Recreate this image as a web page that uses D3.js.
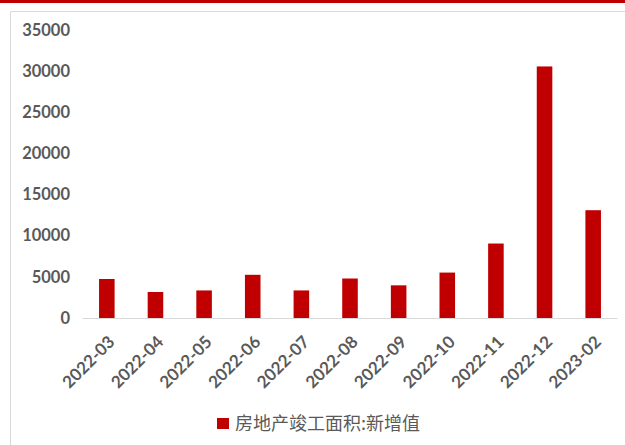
<!DOCTYPE html>
<html><head><meta charset="utf-8">
<script src="https://cdn.jsdelivr.net/npm/d3@7"></script>
<style>html,body{margin:0;padding:0;background:#fff;overflow:hidden}</style>
</head><body>
<script>
const categories = ["2022-03","2022-04","2022-05","2022-06","2022-07","2022-08","2022-09","2022-10","2022-11","2022-12","2023-02"];
const values = [4740, 3160, 3350, 5250, 3350, 4800, 3970, 5520, 9050, 30570, 13100];
const yTicks = [0, 5000, 10000, 15000, 20000, 25000, 30000, 35000];
const seriesName = "房地产竣工面积:新增值";

const W = 625, H = 445;
const svg = d3.select("body").append("svg").attr("width", W).attr("height", H);
svg.append("rect").attr("x",0).attr("y",0).attr("width",W).attr("height",3).attr("fill","#c00000");
svg.append("line").attr("x1",10.5).attr("x2",W).attr("y1",11.5).attr("y2",11.5).attr("stroke","#d9d9d9");
svg.append("line").attr("x1",10.5).attr("x2",10.5).attr("y1",11.5).attr("y2",H).attr("stroke","#d9d9d9");

const x = d3.scaleBand().domain(categories).range([82.5, 617.5]).paddingInner(0.68).paddingOuter(0.34);
const y = d3.scaleLinear().domain([0, 35000]).range([318, 30]);

const font = "Lato, 'Open Sans', sans-serif";
const grey = "#595959";

// y axis labels
const ya = svg.append("g").attr("transform","translate(70,0)")
  .call(d3.axisLeft(y).tickValues(yTicks).tickSize(0).tickPadding(0).tickFormat(d3.format("d")));
ya.select(".domain").remove();
ya.selectAll("text").attr("font-family",font).attr("font-weight","bold").attr("font-size","16.5px").attr("fill",grey);

// bars
svg.append("g").selectAll("rect").data(values).join("rect")
  .attr("x",(d,i)=>x(categories[i]))
  .attr("width",x.bandwidth())
  .attr("y",d=>y(d))
  .attr("height",d=>y(0)-y(d))
  .attr("fill","#c00000");

// x axis
const xa = svg.append("g").attr("transform",`translate(0,${y(0)})`)
  .call(d3.axisBottom(x).tickSize(0).tickPadding(0));
xa.select(".domain").attr("stroke","#d9d9d9").attr("d",`M${x.range()[0]},0.5H${x.range()[1]}`);
xa.selectAll("text")
  .attr("font-family",font).attr("font-weight","bold").attr("font-size","17px").attr("fill",grey)
  .attr("text-anchor","end").attr("dy",null).attr("y",null)
  .attr("transform","translate(9,25) rotate(-45)");

// legend
const lg = svg.append("g");
lg.append("rect").attr("x",217).attr("y",418).attr("width",12).attr("height",11).attr("fill","#c00000");
lg.append("text").attr("x",235).attr("y",430).text(seriesName)
  .attr("font-family","'Noto Sans CJK SC', sans-serif").attr("font-size","18px")
  .attr("fill",grey);
</script>
</body></html>
